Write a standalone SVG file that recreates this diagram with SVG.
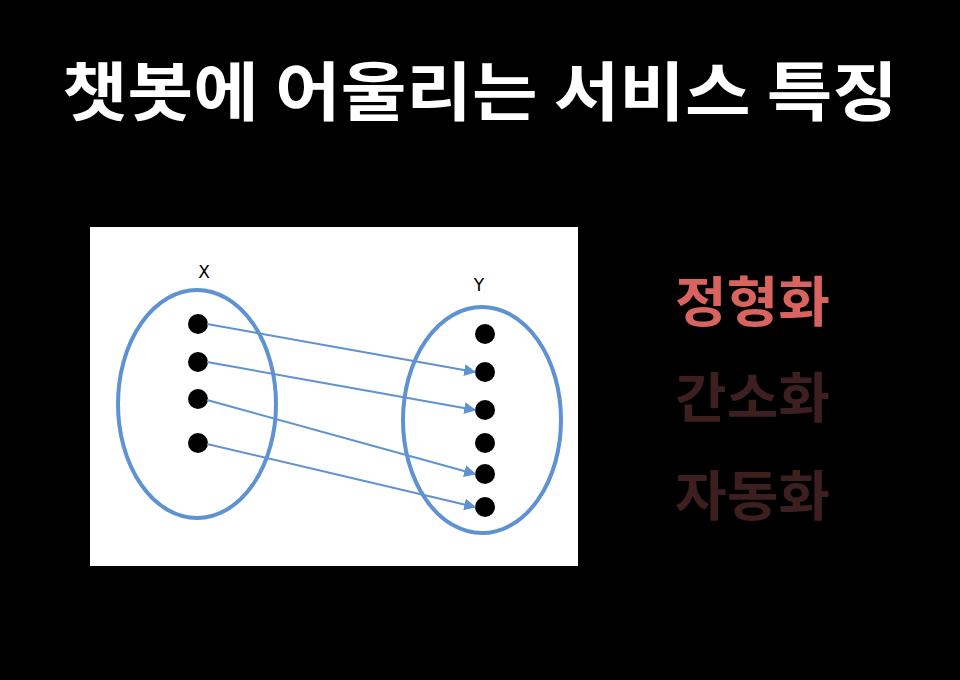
<svg xmlns="http://www.w3.org/2000/svg" width="960" height="680" viewBox="0 0 960 680">
<style>
.ttl{font-family:"Noto Sans CJK KR","Noto Sans",sans-serif;font-weight:bold;fill:#ffffff}
.kw{font-family:"Noto Sans CJK KR","Noto Sans",sans-serif;font-weight:bold;font-size:54px}
.set{fill:none;stroke:#5e92d2;stroke-width:4}
.dot{fill:#000000}
.lbl{font-family:"DejaVu Sans","Liberation Sans",sans-serif;font-size:17px;fill:#000000;text-anchor:middle}
.con line{stroke:#5e92d2;stroke-width:2;marker-end:url(#ah)}
</style>
<defs>
<marker id="ah" viewBox="0 0 10 10" refX="9" refY="5" markerWidth="6" markerHeight="6" orient="auto" markerUnits="strokeWidth">
<path d="M0,0 L10,5 L0,10 z" fill="#5e92d2"/>
</marker>
</defs>
<rect width="960" height="680" fill="#000000"/>
<text class="ttl" x="480" y="115" font-size="64" text-anchor="middle" textLength="836" lengthAdjust="spacingAndGlyphs">챗봇에 어울리는 서비스 특징</text>
<rect x="90" y="227" width="488" height="339" fill="#ffffff"/>
<g id="setX">
<ellipse class="set" cx="197" cy="404" rx="79" ry="114"/>
<text class="lbl" x="204" y="278">X</text>
<circle class="dot" cx="198" cy="324" r="10"/>
<circle class="dot" cx="198" cy="362" r="10"/>
<circle class="dot" cx="198" cy="399" r="10"/>
<circle class="dot" cx="198" cy="443" r="10"/>
</g>
<g id="setY">
<ellipse class="set" cx="482" cy="420" rx="79" ry="113"/>
<text class="lbl" x="479" y="291">Y</text>
<circle class="dot" cx="485" cy="334" r="10"/>
<circle class="dot" cx="485" cy="372" r="10"/>
<circle class="dot" cx="485" cy="410" r="10"/>
<circle class="dot" cx="485" cy="443" r="10"/>
<circle class="dot" cx="485" cy="474" r="10"/>
<circle class="dot" cx="485" cy="507" r="10"/>
</g>
<g id="connectors" class="con">
<line x1="207" y1="324" x2="475" y2="372"/>
<line x1="207" y1="362" x2="475" y2="410"/>
<line x1="207" y1="400" x2="475" y2="474"/>
<line x1="207" y1="444" x2="475" y2="507"/>
</g>
<g id="keywords">
<text class="kw" x="675" y="322" fill="#d9635f" textLength="155" lengthAdjust="spacingAndGlyphs">정형화</text>
<text class="kw" x="675" y="418" fill="#3e1f1f" textLength="155" lengthAdjust="spacingAndGlyphs">간소화</text>
<text class="kw" x="675" y="516" fill="#3e1f1f" textLength="155" lengthAdjust="spacingAndGlyphs">자동화</text>
</g>
</svg>
